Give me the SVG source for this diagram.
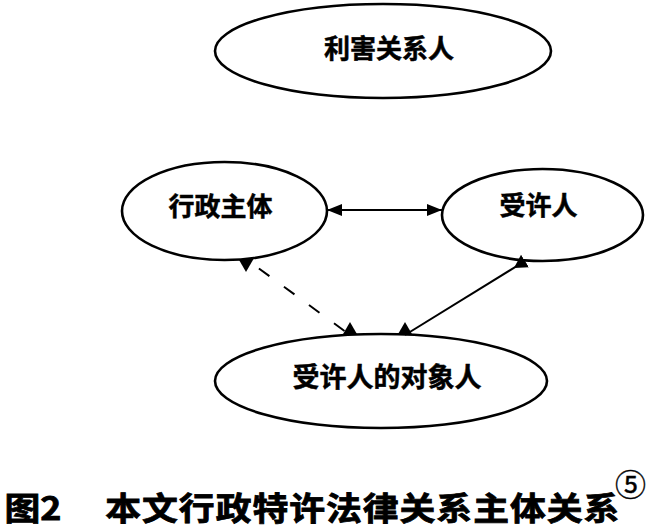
<svg xmlns="http://www.w3.org/2000/svg" width="658" height="531" viewBox="0 0 658 531">
<style>
.node ellipse{fill:#fff;stroke:#000;stroke-width:2.6}
.lbl{font-family:"Noto Sans CJK SC","Noto Sans CJK JP",sans-serif;font-weight:bold;font-size:26px;fill:#000;stroke:#000;stroke-width:0.5;text-anchor:middle}
.cap{font-family:"Noto Sans CJK SC","Noto Sans CJK JP",sans-serif;font-weight:bold;font-size:32px;fill:#000;stroke:#000;stroke-width:0.8}
.sup{font-family:"Noto Sans CJK SC","Noto Sans CJK JP",sans-serif;font-size:31px;fill:#000;stroke:#000;stroke-width:0.4}
.ln{fill:none;stroke:#000;stroke-width:2}
.dash{stroke-dasharray:13 18;stroke-dashoffset:15}
</style>
<defs>
<marker id="ah" viewBox="0 -6 15 12" refX="15" refY="0" markerWidth="15" markerHeight="12" markerUnits="userSpaceOnUse" orient="auto-start-reverse">
<path d="M0,-6 L15,0 L0,6 z" fill="#000"/>
</marker>
<marker id="triD" viewBox="0 -8 14 16" refX="0" refY="0" markerWidth="14" markerHeight="16" markerUnits="userSpaceOnUse" orient="90">
<path d="M0,-7.5 L13,0 L0,7.5 z" fill="#000"/>
</marker>
<marker id="triU" viewBox="0 -8 14 16" refX="0" refY="0" markerWidth="14" markerHeight="16" markerUnits="userSpaceOnUse" orient="270">
<path d="M0,-7.5 L13,0 L0,7.5 z" fill="#000"/>
</marker>
<marker id="triDL" viewBox="0 -8 14 16" refX="0" refY="0" markerWidth="14" markerHeight="16" markerUnits="userSpaceOnUse" orient="148">
<path d="M0,-7.5 L13,0 L0,7.5 z" fill="#000"/>
</marker>
</defs>
<rect width="658" height="531" fill="#fff"/>
<g id="n-stakeholder" class="node">
<ellipse cx="383" cy="51" rx="168" ry="47"/>
<text class="lbl" x="389" y="58">利害关系人</text>
</g>
<g id="n-admin" class="node">
<ellipse cx="224.5" cy="211" rx="102.5" ry="49"/>
<text class="lbl" x="220.5" y="216">行政主体</text>
</g>
<g id="n-licensee" class="node">
<ellipse cx="542.5" cy="215" rx="100.5" ry="46"/>
<text class="lbl" x="538.5" y="215">受许人</text>
</g>
<g id="n-object" class="node">
<ellipse cx="381" cy="381" rx="166" ry="47"/>
<text class="lbl" x="387" y="387" style="font-size:27px">受许人的对象人</text>
</g>
<g id="connectors">
<path class="ln" d="M327,210 L442,210" marker-start="url(#ah)" marker-end="url(#ah)"/>
<path class="ln dash" d="M246,259 L350,335" marker-start="url(#triD)" marker-end="url(#triU)"/>
<path class="ln" d="M405,335 L525,261" marker-start="url(#triU)" marker-end="url(#triDL)"/>
</g>
<g id="caption">
<text class="cap" transform="scale(1.12,1)" x="4" y="520">图2</text>
<text class="cap" transform="scale(1.12,1)" x="94" y="520" textLength="459" lengthAdjust="spacing">本文行政特许法律关系主体关系</text>
<text class="sup" x="615" y="496">⑤</text>
</g>
</svg>
